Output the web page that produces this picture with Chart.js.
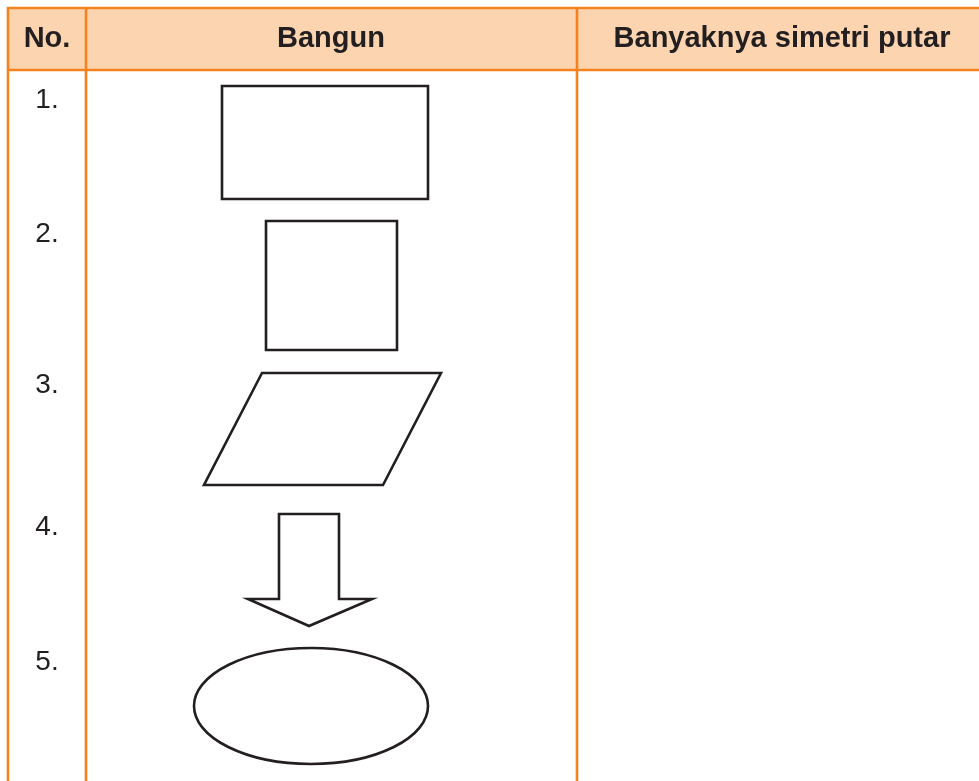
<!DOCTYPE html>
<html>
<head>
<meta charset="utf-8">
<script src="https://cdn.jsdelivr.net/npm/chart.js@4/dist/chart.umd.min.js"></script>
<style>
html,body{margin:0;padding:0;background:#fff;}
#wrap{position:relative;width:979px;height:781px;}
</style>
</head>
<body>
<div id="wrap"><canvas id="c" width="979" height="781"></canvas></div>
<script>
// ---- data ----
const headers = ['No.', 'Bangun', 'Banyaknya simetri putar'];
const headerCenters = [47, 331, 782];
const rowLabels = ['1.', '2.', '3.', '4.', '5.'];
const rowBaselines = [108, 242, 393, 535, 670];
const columnLines = [8, 86, 577];
// shapes (vertices in page units), each closed polygon
const shapeRectangle = [[222, 86], [428, 86], [428, 199], [222, 199]];
const shapeSquare = [[266, 221], [397, 221], [397, 350], [266, 350]];
const shapeParallelogram = [[262, 373], [441, 373], [383, 485], [204, 485]];
const shapeArrow = [[279, 514], [339, 514], [339, 599], [372, 599], [309, 626], [248, 599], [279, 599]];
const ellipseShape = {cx: 311, cy: 706, rx: 117, ry: 58};

const INK = '#231f20';
const ORANGE = '#f5821f';
const PEACH = '#fcd5b0';

// close the outline: revisit first two vertices so every corner gets a proper join
function toPts(arr) {
  const closed = arr.concat([arr[0], arr[1]]);
  return closed.map(p => ({x: p[0], y: p[1]}));
}
function shapeDs(arr) {
  return {data: toPts(arr), showLine: true, borderColor: INK, borderWidth: 2.6,
          pointRadius: 0, fill: false, tension: 0, borderJoinStyle: 'miter'};
}

const tablePlugin = {
  id: 'table',
  beforeDatasetsDraw(chart) {
    const {ctx, scales: {x, y}} = chart;
    const X = v => x.getPixelForValue(v), Y = v => y.getPixelForValue(v);
    ctx.save();
    ctx.fillStyle = PEACH;
    ctx.fillRect(X(8), Y(8), X(990) - X(8), Y(70) - Y(8));
    ctx.strokeStyle = ORANGE;
    ctx.lineWidth = 2.6;
    ctx.beginPath();
    ctx.moveTo(X(7), Y(8)); ctx.lineTo(X(990), Y(8));
    ctx.moveTo(X(7), Y(70)); ctx.lineTo(X(990), Y(70));
    columnLines.forEach(c => { ctx.moveTo(X(c), Y(7)); ctx.lineTo(X(c), Y(790)); });
    ctx.stroke();
    ctx.fillStyle = INK;
    ctx.font = 'bold 29px "Liberation Sans", Arial, sans-serif';
    ctx.textAlign = 'center';
    ctx.textBaseline = 'alphabetic';
    headers.forEach((h, i) => ctx.fillText(h, X(headerCenters[i]), Y(47)));
    ctx.font = '28px "Liberation Sans", Arial, sans-serif';
    rowLabels.forEach((r, i) => ctx.fillText(r, X(47), Y(rowBaselines[i])));
    ctx.restore();
  },
  afterDatasetsDraw(chart) {
    const {ctx, scales: {x, y}} = chart;
    const e = ellipseShape;
    const cx = x.getPixelForValue(e.cx), cy = y.getPixelForValue(e.cy);
    const rx = Math.abs(x.getPixelForValue(e.cx + e.rx) - cx);
    const ry = Math.abs(y.getPixelForValue(e.cy + e.ry) - cy);
    ctx.save();
    ctx.strokeStyle = INK;
    ctx.lineWidth = 2.6;
    ctx.beginPath();
    ctx.ellipse(cx, cy, rx, ry, 0, 0, Math.PI * 2);
    ctx.stroke();
    ctx.restore();
  }
};

new Chart(document.getElementById('c'), {
  type: 'scatter',
  data: {
    datasets: [
      shapeDs(shapeRectangle),
      shapeDs(shapeSquare),
      shapeDs(shapeParallelogram),
      shapeDs(shapeArrow)
    ]
  },
  options: {
    responsive: false,
    animation: false,
    layout: {padding: 0},
    plugins: {legend: {display: false}, tooltip: {enabled: false}},
    scales: {
      x: {type: 'linear', min: 0, max: 979, display: false},
      y: {type: 'linear', min: 0, max: 781, reverse: true, display: false}
    }
  },
  plugins: [tablePlugin]
});
</script>
</body>
</html>
